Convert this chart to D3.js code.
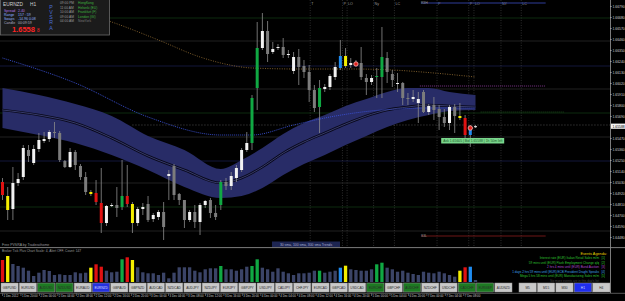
<!DOCTYPE html>
<html>
<head>
<meta charset="utf-8">
<script src="https://cdn.jsdelivr.net/npm/d3@7"></script>
<style>
  body { margin: 0; background: #000; }
  svg { display: block; }
  text { font-family: "Liberation Sans", Arial, sans-serif; }
</style>
</head>
<body>
<svg id="chart" width="625" height="301"></svg>
<script>
// ---- data (EURNZD H1, PVSRA template) ----
const openP = [1.6503,1.6489,1.6476,1.6502,1.6508,1.6535,1.6522,1.6536,1.6544,1.6546,
  1.6553,1.6552,1.6524,1.6518,1.6533,1.6519,1.6508,1.6493,1.6492,1.6482,
  1.6462,1.6479,1.6480,1.6478,1.6489,1.6481,1.6462,1.6476,1.6481,1.6466,
  1.6468,1.6473,1.6509,1.6519,1.6491,1.6485,1.6465,1.6473,1.6463,1.6480,
  1.6485,1.6472,1.6480,1.6503,1.6499,1.6507,1.6515,1.6535,1.6542,1.6597,
  1.6637,1.6654,1.6633,1.6637,1.6638,1.6630,1.6614,1.6628,1.6619,1.6613,
  1.6595,1.6578,1.6596,1.6598,1.6608,1.6617,1.6629,1.6620,1.6621,1.6622,
  1.6607,1.6603,1.6608,1.6608,1.6627,1.6611,1.6601,1.6602,1.6587,1.6586,
  1.6582,1.6593,1.6573,1.6580,1.6576,1.6568,1.6562,1.6578,1.6569,1.6567,
  1.6550,1.6558];
const highP = [1.6507,1.6498,1.6518,1.6512,1.6540,1.6540,1.6540,1.6552,1.6553,1.6555,
  1.6563,1.6554,1.6525,1.6537,1.6535,1.6521,1.6513,1.6495,1.6505,1.6517,
  1.6480,1.6482,1.6498,1.6525,1.6520,1.6483,1.6478,1.6482,1.6489,1.6472,
  1.6475,1.6483,1.6515,1.6521,1.6492,1.6485,1.6475,1.6480,1.6482,1.6485,
  1.6487,1.6480,1.6505,1.6507,1.6513,1.6520,1.6537,1.6553,1.6590,1.6663,
  1.6672,1.6664,1.6643,1.6641,1.6647,1.6635,1.6633,1.6636,1.6625,1.6620,
  1.6600,1.6605,1.6601,1.6611,1.6623,1.6645,1.6637,1.6627,1.6625,1.6638,
  1.6611,1.6610,1.6617,1.6658,1.6633,1.6615,1.6612,1.6603,1.6592,1.6595,
  1.6593,1.6595,1.6581,1.6588,1.6580,1.6576,1.6580,1.6581,1.6582,1.6570,
  1.6560,1.6560];
const lowP = [1.6485,1.6465,1.6465,1.6499,1.6505,1.6523,1.6520,1.6533,1.6542,1.6543,
  1.6547,1.6523,1.6517,1.6517,1.6515,1.6505,1.6490,1.6489,1.6480,1.6452,
  1.6459,1.6478,1.6468,1.6475,1.6478,1.6452,1.6459,1.6470,1.6463,1.6463,
  1.6465,1.6445,1.6485,1.6485,1.6480,1.6457,1.6463,1.6457,1.6450,1.6477,
  1.6467,1.6465,1.6475,1.6495,1.6495,1.6503,1.6513,1.6533,1.6535,1.6575,
  1.6635,1.6623,1.6631,1.6635,1.6627,1.6627,1.6611,1.6600,1.6607,1.6583,
  1.6573,1.6552,1.6593,1.6595,1.6605,1.6615,1.6617,1.6617,1.6619,1.6605,
  1.6590,1.6600,1.6587,1.6587,1.6602,1.6598,1.6593,1.6580,1.6580,1.6583,
  1.6562,1.6572,1.6570,1.6565,1.6555,1.6558,1.6555,1.6552,1.6565,1.6543,
  1.6538,1.6557];
const closeP = [1.6490,1.6475,1.6502,1.6506,1.6537,1.6529,1.6536,1.6545,1.6546,1.6553,
  1.6552,1.6525,1.6518,1.6533,1.6520,1.6508,1.6493,1.6491,1.6483,1.6462,
  1.6479,1.6480,1.6477,1.6489,1.6481,1.6462,1.6476,1.6478,1.6465,1.6470,
  1.6473,1.6458,1.6511,1.6490,1.6485,1.6465,1.6473,1.6463,1.6480,1.6484,
  1.6472,1.6468,1.6503,1.6499,1.6509,1.6517,1.6535,1.6542,1.6587,1.6637,
  1.6654,1.6631,1.6636,1.6638,1.6630,1.6631,1.6628,1.6618,1.6613,1.6595,
  1.6577,1.6597,1.6598,1.6609,1.6618,1.6629,1.6619,1.6622,1.6621,1.6608,
  1.6603,1.6607,1.6609,1.6628,1.6613,1.6605,1.6602,1.6587,1.6586,1.6588,
  1.6586,1.6573,1.6579,1.6575,1.6568,1.6562,1.6578,1.6569,1.6567,1.6550,
  1.6556,1.65588];
// PVSRA class per bar: w bull, g bear, r/G climax, b/y rising volume
const barClass = ("rywwwgwwww" + "gggwgggyrr" + "wwgGrywwgw" + "wgwgggwgww" + "ggGgwwwwGG" +
  "wgwwgwwggg" + "gGwwwbywwg" + "gwGGggwggw" + "wgwgggwgyr" + "bw").split("");
const volume = [220,260,180,160,143,113,60,93,120,110, 70,77,70,70,97,87,93,143,177,153,
  113,97,103,227,247,220,147,97,87,87, 70,93,37,93,147,147,147,113,97,127,
  137,137,160,127,127,113,127,153,160,227, 143,127,103,137,103,87,70,87,87,93,
  113,113,93,103,113,143,163,127,120,113, 113,127,177,193,143,127,103,113,93,80,
  70,103,93,87,103,87,70,53,113,147, 153,20];

// channel around the moving average (bar index, price)
const bandIdx = [0, 7, 14, 21, 28, 35, 42, 46, 50, 54, 58, 62, 66, 70, 74, 78, 82, 86, 91];
const bandUpper = [1.6597,1.6590,1.6581,1.6569,1.6549,1.6535,1.6516,1.6525,1.6537,1.6551,1.6562,1.6570,1.6579,1.6586,1.6593,1.6597,1.6597,1.6593,1.6590];
const bandMid = [1.6575,1.6570,1.6562,1.6547,1.6529,1.6515,1.6502,1.6507,1.6518,1.6532,1.6543,1.6552,1.6561,1.6569,1.6575,1.6578,1.6580,1.6579,1.6578];
const bandLower = [1.6557,1.6550,1.6542,1.6530,1.6515,1.6498,1.6487,1.6489,1.6497,1.6510,1.6521,1.6530,1.6540,1.6549,1.6558,1.6565,1.6570,1.6574,1.6575];
const smaBlueIdx = [0, 14, 28, 42, 48, 56, 63, 73, 83, 91];
const smaBlue = [1.6627,1.6602,1.6568,1.6550,1.6550,1.6560,1.6568,1.6575,1.6577,1.6577];
const smaBrownIdx = [0, 21, 30, 38, 42, 48, 57, 67, 75, 83, 91];
const smaBrown = [1.6689,1.6663,1.6645,1.6628,1.6622,1.6617,1.6616,1.6616,1.6615,1.6612,1.6608];

const gridLevels = [1.6667,1.6644,1.6619,1.6596,1.6572,1.6548,1.6524,1.6502,1.6478,1.6454];
const gridColors = ["#0f3511", "#282828", "#181c4a", "#282828"];
const sessionIdx = [59.2, 65.4, 66.3, 71.4, 75.4, 83.6, 89.7, 90.7, 95.9, 99.8];
const sessionLabels = ["T", "P", "LO", "Ny", "LC", "P", "P", "LO", "NY", "LC"];

const timeLabels = ["1 Dec 2012","1 Dec 20:00","2 Dec 00:00","2 Dec 04:00","2 Dec 08:00","2 Dec 12:00",
  "2 Dec 16:00","2 Dec 20:00","3 Dec 00:00","3 Dec 04:00","3 Dec 08:00","3 Dec 12:00","3 Dec 16:00",
  "3 Dec 20:00","4 Dec 00:00","4 Dec 04:00","4 Dec 08:00","4 Dec 12:00","4 Dec 16:00","4 Dec 20:00",
  "5 Dec 00:00","5 Dec 04:00","6 Dec 20:00","7 Dec 00:00","7 Dec 04:00","7 Dec 08:00"];
const pairs = ["GBPUSD","EURUSD","AUDUSD","NZDUSD","EURAUD","EURNZD","GBPAUD","GBPNZD","AUDCAD","NZDCAD",
  "AUDJPY","NZDJPY","EURJPY","GBPJPY","USDJPY","CADJPY","CHFJPY","EURCAD","GBPCAD","USDCAD",
  "EURCHF","GBPCHF","AUDCHF","NZDCHF","USDCHF","CADCHF","EURGBP","AUDNZD"];
const greenPairs = ["AUDUSD","NZDUSD","EURCHF","AUDCHF","CADCHF","EURGBP"];
const activePair = "EURNZD";
const timeframes = ["M5","M15","M30","H1","H4"];
const activeTf = "H1";

const infoRows = [["Spread", "2.40", "#b67ae6"], ["Range", "157 : 59", "#8fb2ff"],
  ["Swaps", "-14.96  0.08", "#8fb2ff"], ["Candle", "00:09:59", "#b0b0c0"]];
const clockTimes = ["09:00 PM", "11:00 AM", "10:00 AM", "09:00 AM", "04:00 AM"];
const clockCities = ["HongKong", "Helsinki (EU)", "Frankfurt (F)", "London (GI)", "NewYork"];
const events = ["Interest rate (EUR) Italian Retail Sales m/m", "59 mins until (EUR) Flash Employment Change q/q",
  "2 hrs 4 mins until (EUR) Bund Auction", "1 days 2 hrs 59 mins until (EUR) ECB President Draghi Speaks",
  "Mega 5 hrs 58 mins until (EUR) Manufacturing Sales m/m", "Six more events are in this day's list"];
const eventColors = ["#2fc12f", "#2fc12f", "#b04ad0", "#3fa0e0", "#2fc12f", "#444"];

// ---- scales ----
const svg = d3.select("#chart");
const x = d3.scaleLinear().domain([0, 91]).range([2.5, 475.5]);
const y = d3.scaleLinear().domain([1.6439, 1.6679]).range([246, 6]);
const vy = d3.scaleLinear().domain([0, 280]).range([282, 254]);
const candleColor = {w: "#f2f2f2", g: "#7c7c7c", r: "#e01212", G: "#10a843", y: "#f4ee00", b: "#1f8cf0"};
const volColor = {w: "#3b4467", g: "#3b4467", r: "#e01212", G: "#10a843", y: "#f4ee00", b: "#1f8cf0"};
const lastPrice = closeP[closeP.length - 1];

svg.append("rect").attr("width", 625).attr("height", 301).attr("fill", "#000");
svg.append("clipPath").attr("id", "main-clip").append("rect")
  .attr("x", 0).attr("y", 0).attr("width", 610).attr("height", 247);
const main = svg.append("g").attr("clip-path", "url(#main-clip)");

// horizontal quarter levels
main.selectAll(".grid").data(gridLevels).enter().append("line")
  .attr("x1", 0).attr("x2", 610)
  .attr("y1", d => y(d)).attr("y2", d => y(d))
  .attr("stroke", (d, i) => gridColors[i % 4]).attr("stroke-width", 0.8);

// session verticals
main.selectAll(".sess").data(sessionIdx).enter().append("line")
  .attr("x1", d => x(d)).attr("x2", d => x(d)).attr("y1", 0).attr("y2", 247)
  .attr("stroke", "#4a4a4a").attr("stroke-width", 0.6).attr("stroke-dasharray", "1,1.5");
main.selectAll(".sesslabel").data(sessionIdx).enter().append("text")
  .attr("x", d => x(d) + 1).attr("y", 4.5).attr("font-size", 3.6).attr("fill", "#9a9a9a")
  .text((d, i) => sessionLabels[i]);

// pivot lines on the right
function levelLine(i0, i1, price, color, dash, label) {
  main.append("line").attr("x1", x(i0)).attr("x2", x(i1)).attr("y1", y(price)).attr("y2", y(price))
    .attr("stroke", color).attr("stroke-width", 0.9).attr("stroke-dasharray", dash);
  if (label) {
    main.append("text").attr("x", x(i0)).attr("y", y(price) + 1.3).attr("font-size", 3.4)
      .attr("fill", "#999").text(label);
  }
}
levelLine(80.5, 104.5, 1.6682, "#3344aa", null, "R3H");
levelLine(80.5, 104.5, 1.6449, "#7a1818", null, "S3L");
levelLine(80.3, 104.5, 1.6599, "#8a3a9a", "1,1", null);
levelLine(92, 108, 1.6573, "#1d4f1d", "1,1", null);
levelLine(25, 117, 1.6560, "#555", "1,2", null);

// channel
const area = d3.area().curve(d3.curveMonotoneX)
  .x((d, i) => x(bandIdx[i])).y0((d, i) => y(bandLower[i])).y1(d => y(d));
main.append("path").datum(bandUpper).attr("d", area).attr("fill", "#282c67");
const line = (idx) => d3.line().curve(d3.curveMonotoneX).x((d, i) => x(idx[i])).y(d => y(d));
main.append("path").datum(bandMid).attr("d", line(bandIdx)).attr("fill", "none")
  .attr("stroke", "#08081a").attr("stroke-width", 2.6);
main.append("path").datum(bandMid).attr("d", line(bandIdx)).attr("fill", "none")
  .attr("stroke", "#4b508c").attr("stroke-width", 0.7);
main.append("path").datum(smaBlue).attr("d", line(smaBlueIdx)).attr("fill", "none")
  .attr("stroke", "#3b52d8").attr("stroke-width", 0.9).attr("stroke-dasharray", "1,1");
main.append("path").datum(smaBrown).attr("d", line(smaBrownIdx)).attr("fill", "none")
  .attr("stroke", "#9c7436").attr("stroke-width", 0.8).attr("stroke-dasharray", "1,1.4");

// candles
const candles = main.selectAll(".candle").data(openP).enter().append("g");
candles.append("line")
  .attr("x1", (d, i) => x(i)).attr("x2", (d, i) => x(i))
  .attr("y1", (d, i) => y(highP[i])).attr("y2", (d, i) => y(lowP[i]))
  .attr("stroke", "#8d8d8d").attr("stroke-width", 0.8);
candles.append("rect")
  .attr("x", (d, i) => x(i) - 1.5).attr("width", 3)
  .attr("y", (d, i) => y(Math.max(d, closeP[i])))
  .attr("height", (d, i) => Math.max(1, Math.abs(y(d) - y(closeP[i]))))
  .attr("fill", (d, i) => candleColor[barClass[i]]);

// signal rings
function ring(i, price) {
  main.append("circle").attr("cx", x(i)).attr("cy", y(price)).attr("r", 2.2)
    .attr("fill", "#e0201a").attr("stroke", "#f2a8a8").attr("stroke-width", 0.9);
}
ring(68, 1.6621);
ring(90, 1.6557);

// spread/ask box
const askBox = main.append("g").attr("transform", `translate(${x(84.4)},${y(1.6547)})`);
askBox.append("rect").attr("width", 63).attr("height", 5.5).attr("fill", "#79d68c");
askBox.append("text").attr("x", 2).attr("y", 4).attr("font-size", 3.4).attr("fill", "#1d5a2a")
  .text("Ask 1.65605 | Bid 1.65588 | 1h 50m left");

// info panel
const info = svg.append("g");
info.append("rect").attr("x", 0.5).attr("y", -1).attr("width", 109).attr("height", 36)
  .attr("fill", "#1b1b1b").attr("stroke", "#6a6a6a").attr("stroke-width", 0.8);
info.append("text").attr("x", 3).attr("y", 6).attr("font-size", 4.8).attr("fill", "#d0d0d0").text("EURNZD");
info.append("text").attr("x", 30).attr("y", 6).attr("font-size", 4.8).attr("fill", "#d0d0d0").text("H1");
info.selectAll(".row").data(infoRows).enter().append("text")
  .attr("x", 4).attr("y", (d, i) => 11.5 + i * 4.3).attr("font-size", 3.5).attr("fill", d => d[2])
  .text(d => d[0]);
info.selectAll(".rowv").data(infoRows).enter().append("text")
  .attr("x", 18).attr("y", (d, i) => 11.5 + i * 4.3).attr("font-size", 3.5).attr("fill", d => d[2])
  .text(d => d[1]);
info.append("text").attr("x", 12).attr("y", 32).attr("font-size", 7.5).attr("font-weight", "bold")
  .attr("fill", "#ff2424").text(d3.format(".4f")(Math.floor(lastPrice * 10000) / 10000));
info.append("text").attr("x", 37).attr("y", 32).attr("font-size", 4.5).attr("fill", "#ff2424").text("8");
info.selectAll(".pv").data("PVSRA".split("")).enter().append("text")
  .attr("x", 51).attr("y", (d, i) => 8.5 + i * 5.3).attr("text-anchor", "middle")
  .attr("font-size", 5.2).attr("fill", "#4a6ed6").text(d => d);
info.selectAll(".clk").data(clockTimes).enter().append("text")
  .attr("x", 60).attr("y", (d, i) => 4 + i * 4.5).attr("font-size", 3.3).attr("fill", "#9a9a9a").text(d => d);
info.selectAll(".city").data(clockCities).enter().append("text")
  .attr("x", 78).attr("y", (d, i) => 4 + i * 4.5).attr("font-size", 3.3)
  .attr("fill", (d, i) => i < 4 ? "#3fb33f" : "#7a7a7a").text(d => d);

// price axis
const priceTicks = d3.range(0, 22).map(k => 1.6679 - 0.0011 * k)
  .filter(p => Math.abs(y(p) - y(lastPrice)) > 5);
const axisR = svg.append("g").attr("transform", "translate(610,0)")
  .call(d3.axisRight(y).tickValues(priceTicks).tickSize(1.5).tickPadding(1).tickFormat(d3.format(".5f")));
axisR.select(".domain").remove();
axisR.selectAll("line").attr("stroke", "#aaa");
axisR.selectAll("text").attr("font-size", 3.4).attr("fill", "#cfcfcf").attr("font-family", "Liberation Sans, Arial");
svg.append("line").attr("x1", 610.5).attr("x2", 610.5).attr("y1", 0).attr("y2", 293).attr("stroke", "#9a9a9a").attr("stroke-width", 0.8);
svg.append("rect").attr("x", 611).attr("y", y(lastPrice) - 2.6).attr("width", 14).attr("height", 5.2).attr("fill", "#f4f4f4");
svg.append("text").attr("x", 612.5).attr("y", y(lastPrice) + 1.3).attr("font-size", 3.4).attr("fill", "#000")
  .text(d3.format(".5f")(lastPrice));

// lower strip: footer of main window
svg.append("text").attr("x", 2).attr("y", 245.6).attr("font-size", 3.5).attr("fill", "#9a9a9a").text("Free PVSRA by Traderathome");
svg.append("rect").attr("x", 272).attr("y", 241.5).attr("width", 68).attr("height", 5.5).attr("fill", "#1d2552");
svg.append("text").attr("x", 306).attr("y", 245.6).attr("text-anchor", "middle").attr("font-size", 3.4)
  .attr("fill", "#a8acd0").text("30 sma, 100 sma, 300 sma Trends");
svg.append("line").attr("x1", 0).attr("x2", 625).attr("y1", 247.6).attr("y2", 247.6).attr("stroke", "#8a8a8a").attr("stroke-width", 0.9);

// volume window
svg.append("text").attr("x", 2).attr("y", 251.8).attr("font-size", 3.3).attr("fill", "#9a9a9a")
  .text("Broker Tick Plus   Chart Scale: 4, Alert OFF, Count: 147");
svg.selectAll(".vol").data(volume).enter().append("rect")
  .attr("x", (d, i) => x(i) - 1.65).attr("width", 3.3)
  .attr("y", d => vy(d)).attr("height", d => vy(0) - vy(d))
  .attr("fill", (d, i) => volColor[barClass[i]]);
svg.append("text").attr("x", 607).attr("y", 255).attr("text-anchor", "end").attr("font-size", 3.8)
  .attr("fill", "#e2d200").text("Events Agenda:");
svg.selectAll(".ev").data(events).enter().append("text")
  .attr("x", 599).attr("y", (d, i) => 259.3 + i * 4.5).attr("text-anchor", "end").attr("font-size", 3.1)
  .attr("fill", (d, i) => eventColors[i]).text(d => d);
svg.selectAll(".evn").data(events.slice(0, 5)).enter().append("text")
  .attr("x", 601.5).attr("y", (d, i) => 259.3 + i * 4.5).attr("font-size", 3.1)
  .attr("fill", (d, i) => eventColors[i]).text((d, i) => `[${i + 1}]`);

// buttons
const pairBand = d3.scaleBand().domain(pairs).range([1, 512]).paddingInner(0.06);
const tfBand = d3.scaleBand().domain(timeframes).range([519, 610]).paddingInner(0.06);
function buttons(band, names, fillOf) {
  const b = svg.selectAll(null).data(names).enter().append("g")
    .attr("transform", d => `translate(${band(d)},283)`);
  b.append("rect").attr("width", band.bandwidth()).attr("height", 9)
    .attr("fill", fillOf).attr("stroke", "#9a9a9a").attr("stroke-width", 0.5);
  b.append("text").attr("x", band.bandwidth() / 2).attr("y", 5.8).attr("text-anchor", "middle")
    .attr("font-size", 3.2).attr("fill", d => (d === activePair || d === activeTf) ? "#d8dcff" : "#2a2a2a").text(d => d);
}
buttons(pairBand, pairs, d => d === activePair ? "#2531e0" : greenPairs.includes(d) ? "#1d7a22" : "#c9c9c9");
buttons(tfBand, timeframes, d => d === activeTf ? "#1f2ef0" : "#c9c9c9");

// time axis
svg.append("line").attr("x1", 0).attr("x2", 625).attr("y1", 293.3).attr("y2", 293.3).attr("stroke", "#7a7a7a").attr("stroke-width", 0.7);
const timeX = d3.scalePoint().domain(timeLabels).range([2, 2 + 18.45 * (timeLabels.length - 1)]);
const axisB = svg.append("g").attr("transform", "translate(0,293.5)")
  .call(d3.axisBottom(timeX).tickSize(2.5).tickPadding(0.5));
axisB.select(".domain").remove();
axisB.selectAll("line").attr("stroke", "#aaa").attr("stroke-width", 0.5);
axisB.selectAll("text").attr("text-anchor", "start").attr("dx", 1).attr("dy", "0.2em")
  .attr("font-size", 2.9).attr("fill", "#cfcfcf").attr("font-family", "Liberation Sans, Arial");
</script>
</body>
</html>
